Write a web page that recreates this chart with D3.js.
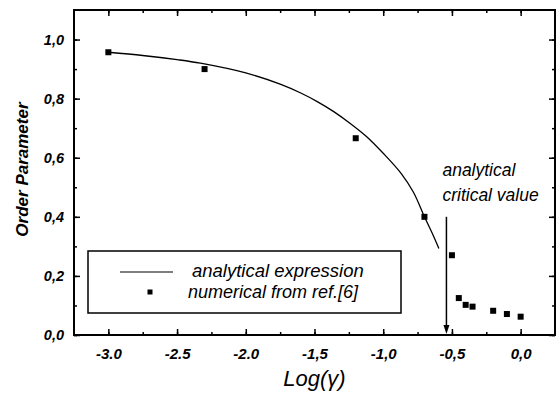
<!DOCTYPE html>
<html>
<head>
<meta charset="utf-8">
<script src="https://cdn.jsdelivr.net/npm/d3@7"></script>
<style>
  html, body { margin: 0; padding: 0; background: #fff; }
  svg { display: block; }
  text { font-family: "Liberation Sans", Arial, sans-serif; fill: #000; }
</style>
</head>
<body>
<svg id="chart" width="557" height="395"></svg>
<script>
// ---- data ----
const curveX = [-3.0, -2.75, -2.5, -2.33, -2.0, -1.75, -1.6, -1.48, -1.36, -1.24, -1.12, -1.0, -0.87, -0.78, -0.70, -0.64, -0.595];
const curveY = [0.957, 0.946, 0.932, 0.920, 0.887, 0.849, 0.819, 0.790, 0.756, 0.716, 0.671, 0.615, 0.547, 0.483, 0.400, 0.341, 0.293];
const numX = [-3.0, -2.3, -1.2, -0.7, -0.5, -0.45, -0.4, -0.35, -0.2, -0.1, 0.0];
const numY = [0.957, 0.90, 0.666, 0.40, 0.27, 0.125, 0.102, 0.096, 0.082, 0.071, 0.062];
const xTickValues = [-3.0, -2.5, -2.0, -1.5, -1.0, -0.5, 0.0];
const xTickLabels = ["-3.0", "-2.5", "-2.0", "-1,5", "-1,0", "-0,5", "0,0"];
const xMinorValues = [-3.0, -2.75, -2.5, -2.25, -2.0, -1.75, -1.5, -1.25, -1.0, -0.75, -0.5, -0.25, 0.0];
const yTickValues = [0.0, 0.2, 0.4, 0.6, 0.8, 1.0];
const yTickLabels = ["0,0", "0,2", "0,4", "0,6", "0,8", "1,0"];
const yMinorValues = [0.0, 0.1, 0.2, 0.3, 0.4, 0.5, 0.6, 0.7, 0.8, 0.9, 1.0];
const criticalX = -0.54;
const criticalTopY = 0.40;
const legendLabels = ["analytical expression", "numerical from ref.[6]"];
const annotationLines = ["analytical", "critical value"];
const xTitle = "Log(\u03B3)";
const yTitle = "Order Parameter";

// ---- layout ----
const W = 557, H = 395;
const m = { left: 74, top: 10, right: 2, bottom: 60 };
const iw = W - m.left - m.right, ih = H - m.top - m.bottom;

const svg = d3.select("#chart");
const g = svg.append("g").attr("transform", `translate(${m.left},${m.top})`);

const x = d3.scaleLinear().domain([-3.25, 0.25]).range([0, iw]);
const y = d3.scaleLinear().domain([0, 1.1]).range([ih, 0]);

function styleAxis(sel) {
  sel.select(".domain").remove();
  sel.selectAll(".tick line").attr("stroke", "#000").attr("stroke-width", 1.5);
}

// minor ticks (inward)
g.append("g").attr("transform", `translate(0,${ih})`)
  .call(d3.axisBottom(x).tickValues(xMinorValues).tickSize(-3).tickFormat(""))
  .call(styleAxis);
g.append("g")
  .call(d3.axisTop(x).tickValues(xMinorValues).tickSize(-3).tickFormat(""))
  .call(styleAxis);
g.append("g")
  .call(d3.axisLeft(y).tickValues(yMinorValues).tickSize(-3).tickFormat(""))
  .call(styleAxis);
g.append("g").attr("transform", `translate(${iw},0)`)
  .call(d3.axisRight(y).tickValues(yMinorValues).tickSize(-3).tickFormat(""))
  .call(styleAxis);

// major ticks
const xb = g.append("g").attr("transform", `translate(0,${ih})`)
  .call(d3.axisBottom(x).tickValues(xTickValues).tickSize(-6).tickPadding(13)
    .tickFormat((d, i) => xTickLabels[i]))
  .call(styleAxis);
xb.selectAll(".tick text")
  .attr("font-size", 15).attr("font-style", "italic").attr("font-weight", "bold")
  .attr("font-family", "'Liberation Sans', Arial, sans-serif");

g.append("g")
  .call(d3.axisTop(x).tickValues(xTickValues).tickSize(-6).tickFormat(""))
  .call(styleAxis);

const yl = g.append("g")
  .call(d3.axisLeft(y).tickValues(yTickValues).tickSize(-6).tickPadding(10)
    .tickFormat((d, i) => yTickLabels[i]))
  .call(styleAxis);
yl.selectAll(".tick text")
  .attr("font-size", 14.5).attr("font-style", "italic").attr("font-weight", "bold")
  .attr("font-family", "'Liberation Sans', Arial, sans-serif");

g.append("g").attr("transform", `translate(${iw},0)`)
  .call(d3.axisRight(y).tickValues(yTickValues).tickSize(-6).tickFormat(""))
  .call(styleAxis);

// frame
g.append("rect").attr("x", 0).attr("y", 0).attr("width", iw).attr("height", ih)
  .attr("fill", "none").attr("stroke", "#000").attr("stroke-width", 2);

// analytical curve
const curveData = curveX.map((d, i) => [d, curveY[i]]);
g.append("path").datum(curveData)
  .attr("fill", "none").attr("stroke", "#000").attr("stroke-width", 1.3)
  .attr("d", d3.line().x(d => x(d[0])).y(d => y(d[1])).curve(d3.curveCatmullRom.alpha(0.5)));

// numerical points
const numData = numX.map((d, i) => [d, numY[i]]);
const ms = 6;
g.selectAll("rect.pt").data(numData).enter().append("rect")
  .attr("class", "pt")
  .attr("x", d => x(d[0]) - ms / 2).attr("y", d => y(d[1]) - ms / 2)
  .attr("width", ms).attr("height", ms).attr("fill", "#000");

// critical value arrow
const ax = x(criticalX);
g.append("line")
  .attr("x1", ax).attr("x2", ax).attr("y1", y(criticalTopY)).attr("y2", ih - 8)
  .attr("stroke", "#000").attr("stroke-width", 1.5);
g.append("path")
  .attr("d", `M${ax - 3},${ih - 10} L${ax + 3},${ih - 10} L${ax},${ih - 1} Z`)
  .attr("fill", "#000");

// annotation text
const ann = g.append("text")
  .attr("font-size", 17.5).attr("font-style", "italic");
annotationLines.forEach((t, i) => {
  ann.append("tspan").attr("x", ax - 4).attr("y", y(0.537) + i * 24.5).text(t);
});

// legend
const lg = svg.append("g");
lg.append("rect").attr("x", 88).attr("y", 251).attr("width", 313).attr("height", 62)
  .attr("fill", "#fff").attr("stroke", "#000").attr("stroke-width", 1.5);
lg.append("line").attr("x1", 120).attr("x2", 173).attr("y1", 272).attr("y2", 272)
  .attr("stroke", "#000").attr("stroke-width", 1.2);
lg.append("rect").attr("x", 147.5).attr("y", 289.5).attr("width", 5).attr("height", 5).attr("fill", "#000");
lg.append("text").attr("x", 192).attr("y", 277).attr("font-size", 18.5).attr("font-style", "italic")
  .text(legendLabels[0]);
lg.append("text").attr("x", 188).attr("y", 298).attr("font-size", 18).attr("font-style", "italic")
  .text(legendLabels[1]);

// axis titles
svg.append("text").attr("x", m.left + x(-1.5)).attr("y", 386)
  .attr("text-anchor", "middle").attr("font-size", 22).attr("font-style", "italic")
  .text(xTitle);
svg.append("text")
  .attr("transform", `translate(28,${m.top + y(0.56)}) rotate(-90)`)
  .attr("text-anchor", "middle").attr("font-size", 17).attr("font-style", "italic").attr("font-weight", "bold")
  .text(yTitle);
</script>
</body>
</html>
